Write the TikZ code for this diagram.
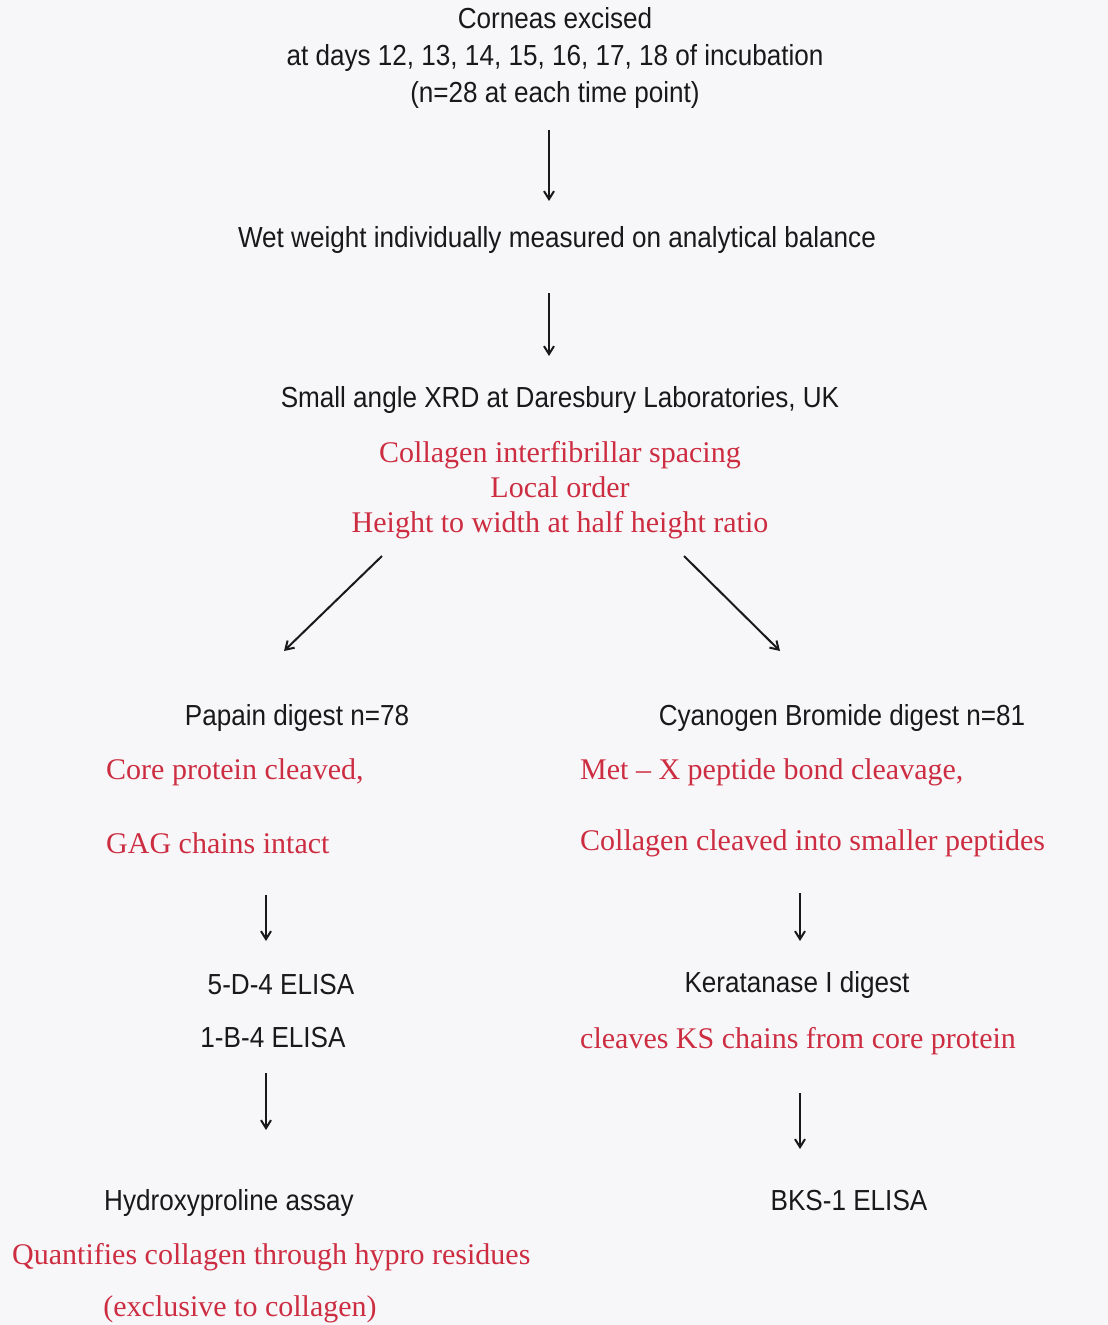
\documentclass[tikz,border=0pt]{standalone}
\usepackage{fontspec}
\setmainfont{Liberation Serif}
\newfontfamily\blk[FakeStretch=0.9]{Liberation Sans}
\usetikzlibrary{arrows.meta}
\definecolor{bg}{RGB}{247,247,250}
\definecolor{redtxt}{RGB}{205,45,65}
\definecolor{ink}{RGB}{25,25,25}
\tikzset{
  bt/.style={font=\blk\fontsize{29}{37}\selectfont, text=ink, inner sep=0pt, align=center},
  rt/.style={font=\fontsize{30}{35}\selectfont, text=redtxt, inner sep=0pt, align=center},
  arr/.style={draw=ink, line width=2pt, -{Straight Barb[length=8pt,width=10pt]}}
}
\begin{document}
\begin{tikzpicture}[x=1pt,y=-1pt]
\fill[bg] (0,0) rectangle (1108,1325);
\useasboundingbox (0,0) rectangle (1108,1325);
% top
\node[bt] (corneas) at (555,58) {Corneas excised\\at days 12, 13, 14, 15, 16, 17, 18 of incubation\\(n=28 at each time point)};
\node[bt] (wet) at (557,240) {Wet weight individually measured on analytical balance};
\node[bt] (xrd) at (560,400) {Small angle XRD at Daresbury Laboratories, UK};
\node[rt] (xrdnote) at (560,490) {Collagen interfibrillar spacing\\Local order\\Height to width at half height ratio};
% branches
\node[bt] (papain) at (297,718) {Papain digest n=78};
\node[bt] (cnbr) at (842,718) {Cyanogen Bromide digest n=81};
\node[rt, anchor=west] (pap1) at (106,772) {Core protein cleaved,};
\node[rt, anchor=west] (pap2) at (106,843) {GAG chains intact};
\node[rt, anchor=west] (cn1) at (580,772) {Met -- X peptide bond cleavage,};
\node[rt, anchor=west] (cn2) at (580,843) {Collagen cleaved into smaller peptides};
\node[bt] (elisa5) at (281,985) {5-D-4 ELISA};
\node[bt] (elisa1) at (273,1038) {1-B-4 ELISA};
\node[bt] (kera) at (797,985) {Keratanase I digest};
\node[rt, anchor=west] (keranote) at (580,1041) {cleaves KS chains from core protein};
\node[bt] (hyp) at (229,1203) {Hydroxyproline assay};
\node[bt] (bks) at (849,1201) {BKS-1 ELISA};
\node[rt, anchor=west] (hypnote) at (12,1257) {Quantifies collagen through hypro residues};
\node[rt] (hypnote2) at (240,1309) {(exclusive to collagen)};
% arrows
\coordinate (a1s) at (549,130); \coordinate (a1e) at (549,201);
\coordinate (a2s) at (549,293); \coordinate (a2e) at (549,356);
\coordinate (a3s) at (382,556); \coordinate (a3e) at (284,651);
\coordinate (a4s) at (684,556); \coordinate (a4e) at (780,651);
\coordinate (a5s) at (266,895); \coordinate (a5e) at (266,941);
\coordinate (a6s) at (800,893); \coordinate (a6e) at (800,941);
\coordinate (a7s) at (266,1073); \coordinate (a7e) at (266,1130);
\coordinate (a8s) at (800,1093); \coordinate (a8e) at (800,1149);
\draw[arr] (a1s) -- (a1e);
\draw[arr] (a2s) -- (a2e);
\draw[arr] (a3s) -- (a3e);
\draw[arr] (a4s) -- (a4e);
\draw[arr] (a5s) -- (a5e);
\draw[arr] (a6s) -- (a6e);
\draw[arr] (a7s) -- (a7e);
\draw[arr] (a8s) -- (a8e);
\end{tikzpicture}
\end{document}
